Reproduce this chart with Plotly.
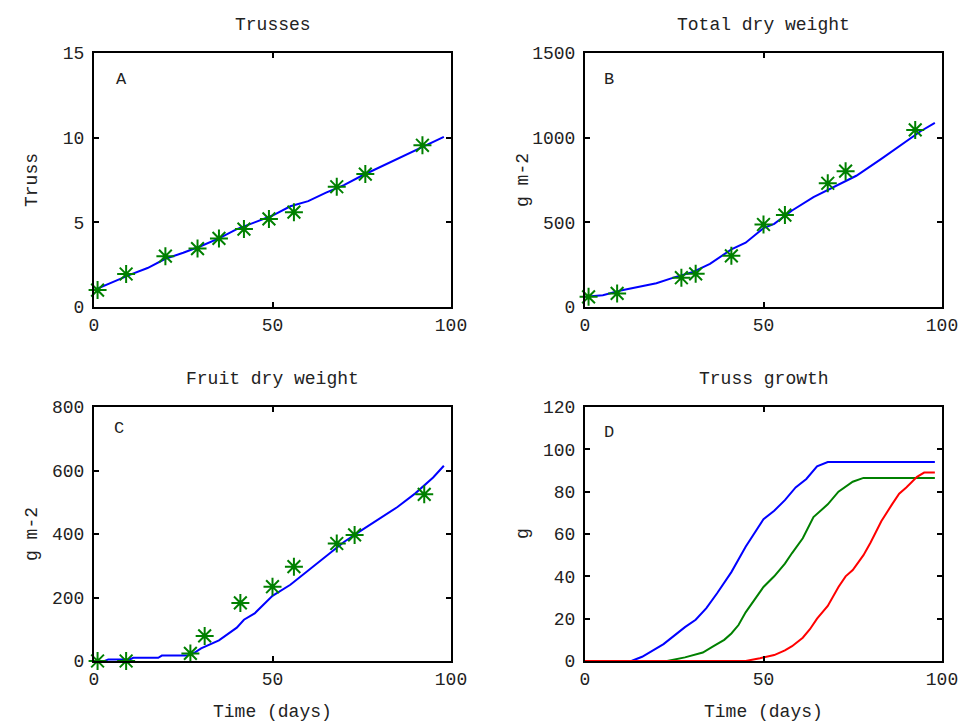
import plotly.graph_objects as go

# ---------------- data ----------------
# Panel A: trusses
a_model_t = [0, 5, 10, 15, 20, 25, 30, 35, 40, 45, 50, 55, 60, 65, 70, 75, 80, 85, 90, 95, 98]
a_model_y = [1.0, 1.45, 1.9, 2.3, 2.85, 3.2, 3.6, 4.05, 4.6, 5.0, 5.4, 5.95, 6.25, 6.75, 7.2, 7.75, 8.25, 8.75, 9.25, 9.75, 10.05]
a_obs_t = [1, 9, 20, 29, 35, 42, 49, 56, 68, 76, 92]
a_obs_y = [1.0, 1.95, 3.0, 3.45, 4.05, 4.6, 5.2, 5.6, 7.1, 7.85, 9.55]

# Panel B: total dry weight
b_model_t = [0, 5, 10, 15, 20, 25, 30, 35, 38, 41, 45, 50, 53, 58, 64, 70, 76, 83, 88, 94, 98]
b_model_y = [60, 70, 97, 118, 140, 175, 205, 255, 300, 340, 380, 466, 491, 570, 649, 712, 775, 875, 947, 1038, 1088]
bc_obs_t = [1, 9, 27, 31, 41, 50, 56, 68, 73, 92.5]
b_obs_y = [60, 80, 173, 196, 302, 487, 543, 731, 802, 1046]

# Panel C: fruit dry weight
c_model_t = [0, 3, 4, 10, 11, 18, 19, 26, 28, 30, 35, 40, 42, 45, 50, 55, 60, 65, 68, 70, 75, 80, 85, 90, 95, 98]
c_model_y = [0, 0, 5, 5, 10, 10, 17, 17, 25, 40, 65, 105, 130, 150, 205, 240, 285, 330, 355, 375, 412, 448, 485, 528, 578, 615]
c_obs_y = [0, 0, 24, 79, 183, 234, 297, 370, 397, 525]

# Panel D: truss growth (three trusses)
d1_t = [0, 13, 16, 19, 22, 25, 28, 31, 34, 37, 41, 45, 48, 50, 53, 56, 59, 62, 65, 68, 98]
d1_y = [0, 0, 2, 4.8, 8, 12, 16, 19.5, 25, 32, 42, 54, 62, 67, 71, 76, 82, 86, 92, 94, 94]
d2_t = [0, 23, 28, 33, 36, 39, 41, 43, 45, 48, 50, 53, 56, 58, 61, 64, 68, 71, 75, 78, 98]
d2_y = [0, 0, 1.7, 4, 7, 10, 13, 17, 23, 30, 35, 40, 46, 51, 58, 68, 74, 80, 84.7, 86.5, 86.5]
d3_t = [0, 45, 49, 53, 56, 58, 61, 63, 65, 68, 71, 73, 75, 78, 80, 83, 86, 88, 90, 93, 95, 98]
d3_y = [0, 0, 1.3, 2.8, 5, 7, 11, 15, 20, 26, 35, 40, 43, 50, 56, 66, 74, 79, 82, 87, 89, 89]

titles = ["Trusses", "Total dry weight", "Fruit dry weight", "Truss growth"]
ylabels = ["Truss", "g m-2", "g m-2", "g"]
xlabel = "Time (days)"
letters = ["A", "B", "C", "D"]
x_ticks = [0, 50, 100]
y_ticks = [[0, 5, 10, 15], [0, 500, 1000, 1500], [0, 200, 400, 600, 800], [0, 20, 40, 60, 80, 100, 120]]

# ---------------- style ----------------
W, H = 964, 722
FONT = "Liberation Mono"
TXT = "#222222"
BLUE, GREEN, RED = "#0000ff", "#008000", "#ff0000"

# page-pixel boxes of the four axes (left, right, top, bottom)
boxes = [(94, 451, 53, 307), (585, 942, 53, 307), (94, 451, 407, 661), (585, 942, 407, 661)]
letter_pos = [(7.6, 13.45), (6.7, 1345), (7.0, 733), (6.7, 108)]

def px(xp):
    return xp / W

def py(yp):
    return 1 - yp / H

fig = go.Figure()

def line(t, y, color, ax):
    fig.add_trace(go.Scatter(x=t, y=y, mode="lines", line=dict(color=color, width=2),
                             xaxis="x" + ax, yaxis="y" + ax, cliponaxis=False, showlegend=False,
                             hoverinfo="skip"))

def stars(t, y, ax):
    fig.add_trace(go.Scatter(x=t, y=y, mode="markers",
                             marker=dict(symbol="asterisk-open", size=15, color=GREEN,
                                         line=dict(color=GREEN, width=2)),
                             xaxis="x" + ax, yaxis="y" + ax, cliponaxis=False, showlegend=False))

line(a_model_t, a_model_y, BLUE, "")
stars(a_obs_t, a_obs_y, "")
line(b_model_t, b_model_y, BLUE, "2")
stars(bc_obs_t, b_obs_y, "2")
line(c_model_t, c_model_y, BLUE, "3")
stars(bc_obs_t, c_obs_y, "3")
line(d1_t, d1_y, BLUE, "4")
line(d2_t, d2_y, GREEN, "4")
line(d3_t, d3_y, RED, "4")

layout = dict(width=W, height=H, margin=dict(l=0, r=0, t=0, b=0, autoexpand=False),
              paper_bgcolor="white", plot_bgcolor="white",
              font=dict(family=FONT, size=18, color=TXT))
annotations = []
for i, (l, r, t, b) in enumerate(boxes):
    sfx = "" if i == 0 else str(i + 1)
    axis_common = dict(showline=True, linecolor="black", linewidth=2, mirror="allticks",
                       ticks="inside", ticklen=5, tickwidth=1.5, tickcolor="black",
                       showgrid=False, zeroline=False, automargin=False,
                       tickfont=dict(family=FONT, size=18, color=TXT))
    yr = [y_ticks[i][0], y_ticks[i][-1]]
    layout["xaxis" + sfx] = dict(axis_common, domain=[px(l), px(r)], range=[0, 100],
                                 tickvals=x_ticks, anchor="y" + sfx)
    layout["yaxis" + sfx] = dict(axis_common, domain=[py(b), py(t)], range=yr,
                                 tickvals=y_ticks[i], anchor="x" + sfx, ticklabelstandoff=4)
    cx = (l + r) / 2
    annotations.append(dict(text=titles[i], x=px(cx), y=py(t - 28), xref="paper", yref="paper",
                            showarrow=False, font=dict(size=18, color=TXT),
                            xanchor="center", yanchor="middle"))
    annotations.append(dict(text=ylabels[i], x=px(l - 62), y=py((t + b) / 2),
                            xref="paper", yref="paper", showarrow=False, textangle=-90,
                            xanchor="center", yanchor="middle",
                            font=dict(size=18, color=TXT)))
    if i >= 2:
        annotations.append(dict(text=xlabel, x=px(cx), y=py(b + 51), xref="paper", yref="paper",
                                showarrow=False, xanchor="center", yanchor="middle",
                                font=dict(size=18, color=TXT)))
    lx, ly = letter_pos[i]
    annotations.append(dict(text=letters[i], x=lx, y=ly, xref="x" + sfx, yref="y" + sfx,
                            showarrow=False, xanchor="center", yanchor="middle",
                            font=dict(size=17, color=TXT)))
layout["annotations"] = annotations
fig.update_layout(**layout)
fig.write_html("out.html",
               config={"displayModeBar": False},
               post_script="document.body.style.margin='0';"
                           "document.documentElement.style.overflow='hidden';")
